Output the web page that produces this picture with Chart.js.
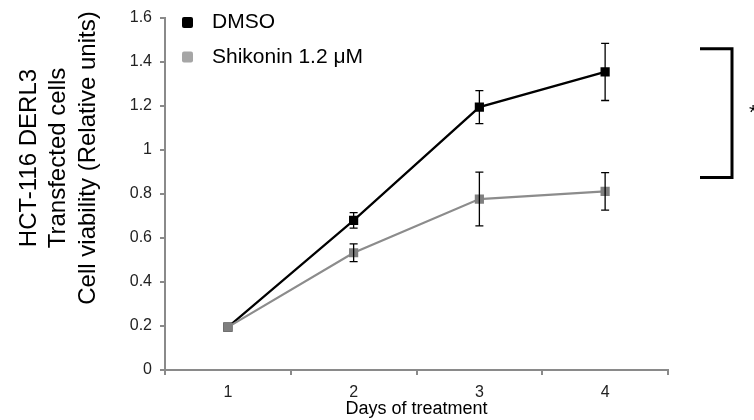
<!DOCTYPE html>
<html>
<head>
<meta charset="utf-8">
<script src="https://cdn.jsdelivr.net/npm/chart.js@4.4.0/dist/chart.umd.min.js"></script>
<style>
  html, body { margin: 0; padding: 0; background: #fff; }
  #wrap { width: 754px; height: 420px; }
</style>
</head>
<body>
<div id="wrap"><canvas id="viabilityChart" width="754" height="420"></canvas></div>
<script>
// valores
const days = ['1', '2', '3', '4'];
const dmsoMean = [0.195, 0.68, 1.195, 1.355];
const dmsoErr = [0, 0.035, 0.075, 0.13];
const shikoninMean = [0.195, 0.533, 0.777, 0.812];
const shikoninErr = [0, 0.04, 0.122, 0.085];
const yTicks = [0, 0.2, 0.4, 0.6, 0.8, 1, 1.2, 1.4, 1.6];
const yTitleLines = ['HCT-116 DERL3', 'Transfected cells', 'Cell viability (Relative units)'];
const bracketTop = 1.46;
const bracketBottom = 0.875;

const errors = [dmsoErr, shikoninErr];
const legendColors = ['#000000', '#a6a6a6'];
const axisGray = '#8a8a8a';
const fontFamily = '"Liberation Sans", Arial, sans-serif';

// barras de erro
const errorBars = {
    id: 'errorBars',
    afterDatasetsDraw(chart) {
        const ctx = chart.ctx;
        const y = chart.scales.y;
        ctx.save();
        ctx.strokeStyle = '#000';
        ctx.lineWidth = 1.3;
        chart.data.datasets.forEach(function(ds, i) {
            const meta = chart.getDatasetMeta(i);
            meta.data.forEach(function(pt, j) {
                const e = errors[i][j];
                if (!e) return;
                const yt = y.getPixelForValue(ds.data[j] + e);
                const yb = y.getPixelForValue(ds.data[j] - e);
                ctx.beginPath();
                ctx.moveTo(pt.x, yt); ctx.lineTo(pt.x, yb);
                ctx.moveTo(pt.x - 4, yt); ctx.lineTo(pt.x + 4, yt);
                ctx.moveTo(pt.x - 4, yb); ctx.lineTo(pt.x + 4, yb);
                ctx.stroke();
            });
        });
        ctx.restore();
    }
};

// legenda, título do eixo y e colchete de significância
const extras = {
    id: 'extras',
    afterDraw(chart) {
        const ctx = chart.ctx;
        const y = chart.scales.y;
        const x = chart.scales.x;
        ctx.save();

        ctx.font = '21px ' + fontFamily;
        ctx.textBaseline = 'middle';
        ctx.textAlign = 'left';
        chart.data.datasets.forEach(function(ds, i) {
            const cy = 22.5 + i * 34.5;
            ctx.fillStyle = legendColors[i];
            ctx.beginPath();
            ctx.roundRect(182, cy - 5.5, 11, 11, 2);
            ctx.fill();
            ctx.fillStyle = '#000';
            ctx.fillText(ds.label, 212, cy);
        });

        ctx.font = '24px ' + fontFamily;
        ctx.textAlign = 'center';
        yTitleLines.forEach(function(line, i) {
            ctx.save();
            ctx.translate(29 + i * 29.5, 158);
            ctx.rotate(-Math.PI / 2);
            ctx.fillText(line, 0, 0);
            ctx.restore();
        });

        const y1 = y.getPixelForValue(bracketTop);
        const y2 = y.getPixelForValue(bracketBottom);
        const bx = x.right + 64;
        ctx.strokeStyle = '#000';
        ctx.lineWidth = 3;
        ctx.beginPath();
        ctx.moveTo(x.right + 32, y1);
        ctx.lineTo(bx, y1);
        ctx.lineTo(bx, y2);
        ctx.lineTo(x.right + 32, y2);
        ctx.stroke();
        ctx.font = '21px ' + fontFamily;
        ctx.textAlign = 'left';
        ctx.fillText('*', bx + 17, (y1 + y2) / 2);
        ctx.restore();
    }
};

new Chart(document.getElementById('viabilityChart'), {
    type: 'line',
    data: {
        labels: days,
        datasets: [{
            label: 'DMSO',
            data: dmsoMean,
            borderColor: '#000000',
            backgroundColor: '#000000',
            borderWidth: 2.2,
            pointStyle: 'rect',
            pointRadius: 6.5,
            pointBorderWidth: 0,
            order: 1
        }, {
            label: 'Shikonin 1.2 \u03BCM',
            data: shikoninMean,
            borderColor: '#8c8c8c',
            backgroundColor: '#7f7f7f',
            borderWidth: 2.2,
            pointStyle: 'rect',
            pointRadius: 6.5,
            pointBorderWidth: 0,
            order: 0
        }]
    },
    options: {
        responsive: false,
        animation: false,
        devicePixelRatio: 1,
        layout: { padding: { top: 18, right: 86, bottom: 0, left: 0 } },
        plugins: {
            legend: { display: false },
            tooltip: { enabled: false }
        },
        scales: {
            x: {
                offset: true,
                grid: { offset: true, drawOnChartArea: false, tickLength: 5, color: axisGray, lineWidth: 2 },
                border: { color: axisGray, width: 2 },
                ticks: { color: '#222', padding: 8, font: { size: 16, family: fontFamily } },
                title: {
                    display: true,
                    text: 'Days of treatment',
                    color: '#000',
                    padding: 0,
                    font: { size: 18, family: fontFamily }
                },
                afterFit(scale) { scale.height = 50; }
            },
            y: {
                min: 0,
                max: 1.6,
                grid: { drawOnChartArea: false, tickLength: 5, color: axisGray, lineWidth: 2 },
                border: { color: axisGray, width: 2 },
                ticks: {
                    color: '#222',
                    padding: 8,
                    font: { size: 16, family: fontFamily },
                    callback: function(value) { return String(value); }
                },
                afterBuildTicks(scale) { scale.ticks = yTicks.map(v => ({ value: v })); },
                afterFit(scale) { scale.width = 165; }
            }
        }
    },
    plugins: [errorBars, extras]
});
</script>
</body>
</html>
